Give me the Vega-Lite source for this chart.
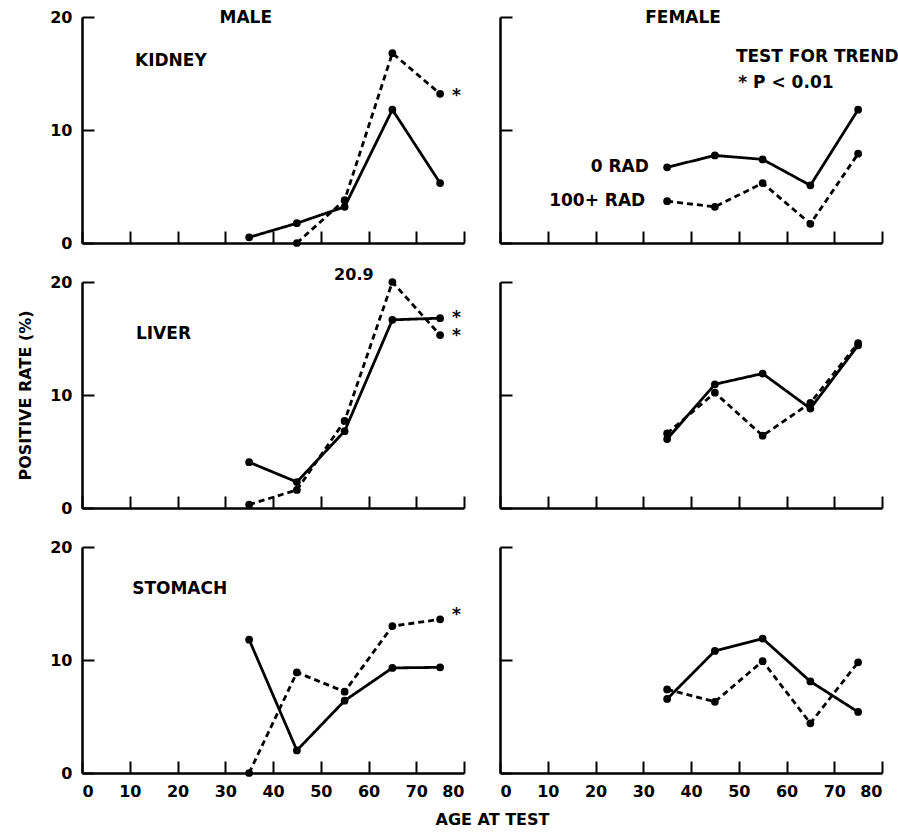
{
  "$schema": "https://vega.github.io/schema/vega-lite/v6.json",
  "background": "white",
  "padding": {"left": 17, "top": 9, "right": 0, "bottom": 0},
  "datasets": {
    "rates": [
      {"organ": "KIDNEY", "sex": "MALE", "rad": "0 RAD", "age": 35, "rate": 0.5},
      {"organ": "KIDNEY", "sex": "MALE", "rad": "0 RAD", "age": 45, "rate": 1.75},
      {"organ": "KIDNEY", "sex": "MALE", "rad": "0 RAD", "age": 55, "rate": 3.2},
      {"organ": "KIDNEY", "sex": "MALE", "rad": "0 RAD", "age": 65, "rate": 11.8},
      {"organ": "KIDNEY", "sex": "MALE", "rad": "0 RAD", "age": 75, "rate": 5.3},
      {"organ": "KIDNEY", "sex": "MALE", "rad": "100+ RAD", "age": 45, "rate": 0},
      {"organ": "KIDNEY", "sex": "MALE", "rad": "100+ RAD", "age": 55, "rate": 3.8},
      {"organ": "KIDNEY", "sex": "MALE", "rad": "100+ RAD", "age": 65, "rate": 16.8},
      {"organ": "KIDNEY", "sex": "MALE", "rad": "100+ RAD", "age": 75, "rate": 13.2},
      {"organ": "KIDNEY", "sex": "FEMALE", "rad": "0 RAD", "age": 35, "rate": 6.7},
      {"organ": "KIDNEY", "sex": "FEMALE", "rad": "0 RAD", "age": 45, "rate": 7.75},
      {"organ": "KIDNEY", "sex": "FEMALE", "rad": "0 RAD", "age": 55, "rate": 7.4},
      {"organ": "KIDNEY", "sex": "FEMALE", "rad": "0 RAD", "age": 65, "rate": 5.1},
      {"organ": "KIDNEY", "sex": "FEMALE", "rad": "0 RAD", "age": 75, "rate": 11.8},
      {"organ": "KIDNEY", "sex": "FEMALE", "rad": "100+ RAD", "age": 35, "rate": 3.7},
      {"organ": "KIDNEY", "sex": "FEMALE", "rad": "100+ RAD", "age": 45, "rate": 3.2},
      {"organ": "KIDNEY", "sex": "FEMALE", "rad": "100+ RAD", "age": 55, "rate": 5.3},
      {"organ": "KIDNEY", "sex": "FEMALE", "rad": "100+ RAD", "age": 65, "rate": 1.7},
      {"organ": "KIDNEY", "sex": "FEMALE", "rad": "100+ RAD", "age": 75, "rate": 7.9},
      {"organ": "LIVER", "sex": "MALE", "rad": "0 RAD", "age": 35, "rate": 4.05},
      {"organ": "LIVER", "sex": "MALE", "rad": "0 RAD", "age": 45, "rate": 2.3},
      {"organ": "LIVER", "sex": "MALE", "rad": "0 RAD", "age": 55, "rate": 6.8},
      {"organ": "LIVER", "sex": "MALE", "rad": "0 RAD", "age": 65, "rate": 16.65},
      {"organ": "LIVER", "sex": "MALE", "rad": "0 RAD", "age": 75, "rate": 16.8},
      {"organ": "LIVER", "sex": "MALE", "rad": "100+ RAD", "age": 35, "rate": 0.3},
      {"organ": "LIVER", "sex": "MALE", "rad": "100+ RAD", "age": 45, "rate": 1.6},
      {"organ": "LIVER", "sex": "MALE", "rad": "100+ RAD", "age": 55, "rate": 7.7},
      {"organ": "LIVER", "sex": "MALE", "rad": "100+ RAD", "age": 65, "rate": 20.9},
      {"organ": "LIVER", "sex": "MALE", "rad": "100+ RAD", "age": 75, "rate": 15.3},
      {"organ": "LIVER", "sex": "FEMALE", "rad": "0 RAD", "age": 35, "rate": 6.1},
      {"organ": "LIVER", "sex": "FEMALE", "rad": "0 RAD", "age": 45, "rate": 10.95},
      {"organ": "LIVER", "sex": "FEMALE", "rad": "0 RAD", "age": 55, "rate": 11.9},
      {"organ": "LIVER", "sex": "FEMALE", "rad": "0 RAD", "age": 65, "rate": 8.8},
      {"organ": "LIVER", "sex": "FEMALE", "rad": "0 RAD", "age": 75, "rate": 14.4},
      {"organ": "LIVER", "sex": "FEMALE", "rad": "100+ RAD", "age": 35, "rate": 6.6},
      {"organ": "LIVER", "sex": "FEMALE", "rad": "100+ RAD", "age": 45, "rate": 10.2},
      {"organ": "LIVER", "sex": "FEMALE", "rad": "100+ RAD", "age": 55, "rate": 6.4},
      {"organ": "LIVER", "sex": "FEMALE", "rad": "100+ RAD", "age": 65, "rate": 9.3},
      {"organ": "LIVER", "sex": "FEMALE", "rad": "100+ RAD", "age": 75, "rate": 14.6},
      {"organ": "STOMACH", "sex": "MALE", "rad": "0 RAD", "age": 35, "rate": 11.8},
      {"organ": "STOMACH", "sex": "MALE", "rad": "0 RAD", "age": 45, "rate": 2.0},
      {"organ": "STOMACH", "sex": "MALE", "rad": "0 RAD", "age": 55, "rate": 6.4},
      {"organ": "STOMACH", "sex": "MALE", "rad": "0 RAD", "age": 65, "rate": 9.3},
      {"organ": "STOMACH", "sex": "MALE", "rad": "0 RAD", "age": 75, "rate": 9.35},
      {"organ": "STOMACH", "sex": "MALE", "rad": "100+ RAD", "age": 35, "rate": 0},
      {"organ": "STOMACH", "sex": "MALE", "rad": "100+ RAD", "age": 45, "rate": 8.9},
      {"organ": "STOMACH", "sex": "MALE", "rad": "100+ RAD", "age": 55, "rate": 7.2},
      {"organ": "STOMACH", "sex": "MALE", "rad": "100+ RAD", "age": 65, "rate": 13.0},
      {"organ": "STOMACH", "sex": "MALE", "rad": "100+ RAD", "age": 75, "rate": 13.6},
      {"organ": "STOMACH", "sex": "FEMALE", "rad": "0 RAD", "age": 35, "rate": 6.55},
      {"organ": "STOMACH", "sex": "FEMALE", "rad": "0 RAD", "age": 45, "rate": 10.8},
      {"organ": "STOMACH", "sex": "FEMALE", "rad": "0 RAD", "age": 55, "rate": 11.9},
      {"organ": "STOMACH", "sex": "FEMALE", "rad": "0 RAD", "age": 65, "rate": 8.1},
      {"organ": "STOMACH", "sex": "FEMALE", "rad": "0 RAD", "age": 75, "rate": 5.4},
      {"organ": "STOMACH", "sex": "FEMALE", "rad": "100+ RAD", "age": 35, "rate": 7.4},
      {"organ": "STOMACH", "sex": "FEMALE", "rad": "100+ RAD", "age": 45, "rate": 6.3},
      {"organ": "STOMACH", "sex": "FEMALE", "rad": "100+ RAD", "age": 55, "rate": 9.9},
      {"organ": "STOMACH", "sex": "FEMALE", "rad": "100+ RAD", "age": 65, "rate": 4.4},
      {"organ": "STOMACH", "sex": "FEMALE", "rad": "100+ RAD", "age": 75, "rate": 9.8}
    ],
    "notes": [
      {"organ": "KIDNEY", "sex": "MALE", "age": 28.8, "rate": 19.9, "label": "MALE"},
      {"organ": "KIDNEY", "sex": "MALE", "age": 11.1, "rate": 16.1, "label": "KIDNEY"},
      {"organ": "KIDNEY", "sex": "MALE", "age": 77.5, "rate": 13.0, "label": "*"},
      {"organ": "KIDNEY", "sex": "FEMALE", "age": 30.4, "rate": 19.9, "label": "FEMALE"},
      {"organ": "KIDNEY", "sex": "FEMALE", "age": 49.4, "rate": 16.5, "label": "TEST FOR TREND"},
      {"organ": "KIDNEY", "sex": "FEMALE", "age": 49.9, "rate": 14.2, "label": "* P < 0.01"},
      {"organ": "KIDNEY", "sex": "FEMALE", "age": 19.0, "rate": 6.75, "label": "0 RAD"},
      {"organ": "KIDNEY", "sex": "FEMALE", "age": 10.3, "rate": 3.7, "label": "100+ RAD"},
      {"organ": "LIVER", "sex": "MALE", "age": 11.3, "rate": 15.4, "label": "LIVER"},
      {"organ": "LIVER", "sex": "MALE", "age": 77.5, "rate": 16.85, "label": "*"},
      {"organ": "LIVER", "sex": "MALE", "age": 77.5, "rate": 15.25, "label": "*"},
      {"organ": "STOMACH", "sex": "MALE", "age": 10.5, "rate": 16.3, "label": "STOMACH"},
      {"organ": "STOMACH", "sex": "MALE", "age": 77.5, "rate": 14.0, "label": "*"}
    ],
    "top": [
      {"organ": "LIVER", "sex": "MALE", "age": 52.8, "rate": 20, "label": "20.9"}
    ]
  },
  "config": {
    "font": "DejaVu Sans",
    "view": {"stroke": null},
    "axis": {
      "grid": false,
      "domainColor": "black",
      "domainWidth": 2.5,
      "tickColor": "black",
      "tickWidth": 2,
      "tickSize": -12,
      "labelFont": "DejaVu Sans",
      "labelFontWeight": "bold",
      "labelFontSize": 16,
      "labelColor": "black",
      "labelPadding": 22,
      "titleFont": "DejaVu Sans",
      "titleFontWeight": "bold",
      "titleFontSize": 16,
      "titleColor": "black"
    }
  },
  "bounds": "flush",
  "columns": 2,
  "spacing": {"row": 39, "column": 36},
  "concat": [
    {
      "width": 382, "height": 226,
      "layer": [
        {"data": {"name": "rates"}, "transform": [{"filter": "datum.organ === 'KIDNEY' && datum.sex === 'MALE'"}],
         "mark": {"type": "line", "color": "black", "strokeWidth": 2.8},
         "encoding": {
           "x": {"field": "age", "type": "quantitative", "scale": {"domain": [0, 80], "nice": false, "zero": false}, "axis": {"values": [0, 10, 20, 30, 40, 50, 60, 70, 80], "labels": false, "title": null}},
           "y": {"field": "rate", "type": "quantitative", "scale": {"domain": [0, 20], "nice": false, "clamp": true}, "axis": {"values": [0, 10, 20], "labels": true, "title": null}},
           "strokeDash": {"field": "rad", "type": "nominal", "scale": {"domain": ["0 RAD", "100+ RAD"], "range": [[1, 0], [6, 4]]}, "legend": null}
         }},
        {"data": {"name": "rates"}, "transform": [{"filter": "datum.organ === 'KIDNEY' && datum.sex === 'MALE'"}],
         "mark": {"type": "point", "filled": true, "color": "black", "size": 60, "opacity": 1},
         "encoding": {"x": {"field": "age", "type": "quantitative"}, "y": {"field": "rate", "type": "quantitative"}}},
        {"data": {"name": "notes"}, "transform": [{"filter": "datum.organ === 'KIDNEY' && datum.sex === 'MALE'"}],
         "mark": {"type": "text", "align": "left", "baseline": "middle", "fontSize": 17, "fontWeight": "bold", "color": "black"},
         "encoding": {"x": {"field": "age", "type": "quantitative"}, "y": {"field": "rate", "type": "quantitative"}, "text": {"field": "label"}}}
      ]
    },
    {
      "width": 382, "height": 226,
      "layer": [
        {"data": {"name": "rates"}, "transform": [{"filter": "datum.organ === 'KIDNEY' && datum.sex === 'FEMALE'"}],
         "mark": {"type": "line", "color": "black", "strokeWidth": 2.8},
         "encoding": {
           "x": {"field": "age", "type": "quantitative", "scale": {"domain": [0, 80], "nice": false, "zero": false}, "axis": {"values": [0, 10, 20, 30, 40, 50, 60, 70, 80], "labels": false, "title": null}},
           "y": {"field": "rate", "type": "quantitative", "scale": {"domain": [0, 20], "nice": false, "clamp": true}, "axis": {"values": [0, 10, 20], "labels": false, "title": null}},
           "strokeDash": {"field": "rad", "type": "nominal", "scale": {"domain": ["0 RAD", "100+ RAD"], "range": [[1, 0], [6, 4]]}, "legend": null}
         }},
        {"data": {"name": "rates"}, "transform": [{"filter": "datum.organ === 'KIDNEY' && datum.sex === 'FEMALE'"}],
         "mark": {"type": "point", "filled": true, "color": "black", "size": 60, "opacity": 1},
         "encoding": {"x": {"field": "age", "type": "quantitative"}, "y": {"field": "rate", "type": "quantitative"}}},
        {"data": {"name": "notes"}, "transform": [{"filter": "datum.organ === 'KIDNEY' && datum.sex === 'FEMALE'"}],
         "mark": {"type": "text", "align": "left", "baseline": "middle", "fontSize": 17, "fontWeight": "bold", "color": "black"},
         "encoding": {"x": {"field": "age", "type": "quantitative"}, "y": {"field": "rate", "type": "quantitative"}, "text": {"field": "label"}}}
      ]
    },
    {
      "width": 382, "height": 226,
      "layer": [
        {"data": {"name": "rates"}, "transform": [{"filter": "datum.organ === 'LIVER' && datum.sex === 'MALE'"}],
         "mark": {"type": "line", "color": "black", "strokeWidth": 2.8},
         "encoding": {
           "x": {"field": "age", "type": "quantitative", "scale": {"domain": [0, 80], "nice": false, "zero": false}, "axis": {"values": [0, 10, 20, 30, 40, 50, 60, 70, 80], "labels": false, "title": null}},
           "y": {"field": "rate", "type": "quantitative", "scale": {"domain": [0, 20], "nice": false, "clamp": true}, "axis": {"values": [0, 10, 20], "labels": true, "title": "POSITIVE RATE (%)", "titlePadding": 16}},
           "strokeDash": {"field": "rad", "type": "nominal", "scale": {"domain": ["0 RAD", "100+ RAD"], "range": [[1, 0], [6, 4]]}, "legend": null}
         }},
        {"data": {"name": "rates"}, "transform": [{"filter": "datum.organ === 'LIVER' && datum.sex === 'MALE'"}],
         "mark": {"type": "point", "filled": true, "color": "black", "size": 60, "opacity": 1},
         "encoding": {"x": {"field": "age", "type": "quantitative"}, "y": {"field": "rate", "type": "quantitative"}}},
        {"data": {"name": "notes"}, "transform": [{"filter": "datum.organ === 'LIVER' && datum.sex === 'MALE'"}],
         "mark": {"type": "text", "align": "left", "baseline": "middle", "fontSize": 17, "fontWeight": "bold", "color": "black"},
         "encoding": {"x": {"field": "age", "type": "quantitative"}, "y": {"field": "rate", "type": "quantitative"}, "text": {"field": "label"}}},
        {"data": {"name": "top"},
         "mark": {"type": "text", "align": "left", "baseline": "bottom", "dy": 1, "fontSize": 16, "fontWeight": "bold", "color": "black"},
         "encoding": {"x": {"field": "age", "type": "quantitative"}, "y": {"field": "rate", "type": "quantitative"}, "text": {"field": "label"}}}
      ]
    },
    {
      "width": 382, "height": 226,
      "layer": [
        {"data": {"name": "rates"}, "transform": [{"filter": "datum.organ === 'LIVER' && datum.sex === 'FEMALE'"}],
         "mark": {"type": "line", "color": "black", "strokeWidth": 2.8},
         "encoding": {
           "x": {"field": "age", "type": "quantitative", "scale": {"domain": [0, 80], "nice": false, "zero": false}, "axis": {"values": [0, 10, 20, 30, 40, 50, 60, 70, 80], "labels": false, "title": null}},
           "y": {"field": "rate", "type": "quantitative", "scale": {"domain": [0, 20], "nice": false, "clamp": true}, "axis": {"values": [0, 10, 20], "labels": false, "title": null}},
           "strokeDash": {"field": "rad", "type": "nominal", "scale": {"domain": ["0 RAD", "100+ RAD"], "range": [[1, 0], [6, 4]]}, "legend": null}
         }},
        {"data": {"name": "rates"}, "transform": [{"filter": "datum.organ === 'LIVER' && datum.sex === 'FEMALE'"}],
         "mark": {"type": "point", "filled": true, "color": "black", "size": 60, "opacity": 1},
         "encoding": {"x": {"field": "age", "type": "quantitative"}, "y": {"field": "rate", "type": "quantitative"}}}
      ]
    },
    {
      "width": 382, "height": 226,
      "layer": [
        {"data": {"name": "rates"}, "transform": [{"filter": "datum.organ === 'STOMACH' && datum.sex === 'MALE'"}],
         "mark": {"type": "line", "color": "black", "strokeWidth": 2.8},
         "encoding": {
           "x": {"field": "age", "type": "quantitative", "scale": {"domain": [0, 80], "nice": false, "zero": false}, "axis": {"values": [0, 10, 20, 30, 40, 50, 60, 70, 80], "labels": true, "title": "AGE AT TEST", "titleX": 410, "titlePadding": 12}},
           "y": {"field": "rate", "type": "quantitative", "scale": {"domain": [0, 20], "nice": false, "clamp": true}, "axis": {"values": [0, 10, 20], "labels": true, "title": null}},
           "strokeDash": {"field": "rad", "type": "nominal", "scale": {"domain": ["0 RAD", "100+ RAD"], "range": [[1, 0], [6, 4]]}, "legend": null}
         }},
        {"data": {"name": "rates"}, "transform": [{"filter": "datum.organ === 'STOMACH' && datum.sex === 'MALE'"}],
         "mark": {"type": "point", "filled": true, "color": "black", "size": 60, "opacity": 1},
         "encoding": {"x": {"field": "age", "type": "quantitative"}, "y": {"field": "rate", "type": "quantitative"}}},
        {"data": {"name": "notes"}, "transform": [{"filter": "datum.organ === 'STOMACH' && datum.sex === 'MALE'"}],
         "mark": {"type": "text", "align": "left", "baseline": "middle", "fontSize": 17, "fontWeight": "bold", "color": "black"},
         "encoding": {"x": {"field": "age", "type": "quantitative"}, "y": {"field": "rate", "type": "quantitative"}, "text": {"field": "label"}}}
      ]
    },
    {
      "width": 382, "height": 226,
      "layer": [
        {"data": {"name": "rates"}, "transform": [{"filter": "datum.organ === 'STOMACH' && datum.sex === 'FEMALE'"}],
         "mark": {"type": "line", "color": "black", "strokeWidth": 2.8},
         "encoding": {
           "x": {"field": "age", "type": "quantitative", "scale": {"domain": [0, 80], "nice": false, "zero": false}, "axis": {"values": [0, 10, 20, 30, 40, 50, 60, 70, 80], "labels": true, "title": null}},
           "y": {"field": "rate", "type": "quantitative", "scale": {"domain": [0, 20], "nice": false, "clamp": true}, "axis": {"values": [0, 10, 20], "labels": false, "title": null}},
           "strokeDash": {"field": "rad", "type": "nominal", "scale": {"domain": ["0 RAD", "100+ RAD"], "range": [[1, 0], [6, 4]]}, "legend": null}
         }},
        {"data": {"name": "rates"}, "transform": [{"filter": "datum.organ === 'STOMACH' && datum.sex === 'FEMALE'"}],
         "mark": {"type": "point", "filled": true, "color": "black", "size": 60, "opacity": 1},
         "encoding": {"x": {"field": "age", "type": "quantitative"}, "y": {"field": "rate", "type": "quantitative"}}}
      ]
    }
  ]
}
